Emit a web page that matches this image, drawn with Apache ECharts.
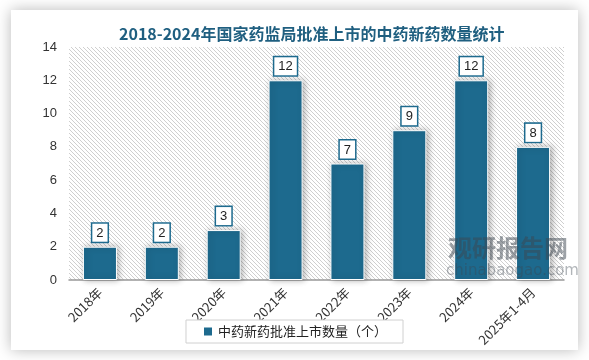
<!DOCTYPE html>
<html><head><meta charset="utf-8">
<script src="https://cdn.jsdelivr.net/npm/echarts@6/dist/echarts.min.js"></script>
<style>html,body{margin:0;padding:0;background:#fff;}#c{width:589px;height:360px;}</style>
</head><body><div id="c"></div>
<script>
var categories = ['2018年','2019年','2020年','2021年','2022年','2023年','2024年','2025年1-4月'];
var values = [2,2,3,12,7,9,12,8];
var seriesName = '中药新药批准上市数量（个）';
var titleText = '2018-2024年国家药监局批准上市的中药新药数量统计';

var pc = document.createElement('canvas');
pc.width = 4; pc.height = 4;
var g = pc.getContext('2d');
g.fillStyle = '#ffffff'; g.fillRect(0,0,4,4);
g.strokeStyle = '#cfcfcf'; g.lineWidth = 1;
g.beginPath();
g.moveTo(-1,-1); g.lineTo(5,5);
g.moveTo(-1,3); g.lineTo(1,5);
g.moveTo(3,-1); g.lineTo(5,1);
g.stroke();

var barColor = '#1d6a8e';
var chart = echarts.init(document.getElementById('c'), null, {renderer:'canvas'});
chart.setOption({
  animation:false,
  graphic:[
    {type:'rect', z:-10, shape:{x:11,y:10,width:567,height:340}, style:{fill:'#fff', shadowBlur:14, shadowColor:'rgba(0,0,0,0.28)'}},
    {type:'text', z:100, left:448, top:236, style:{text:'观研报告网', fill:'rgba(60,70,80,0.5)', font:'bold 24px "Noto Sans CJK SC"'}},
    {type:'text', z:100, left:446, top:264, style:{text:'chinabaogao.com', fill:'rgba(60,70,80,0.4)', font:'15px "DejaVu Sans"'}}
  ],
  title:{text:titleText, left:114, top:21, textStyle:{color:'#1f5f80', fontSize:16, fontWeight:'bold', fontFamily:'"Noto Sans CJK SC"'}},
  grid:{left:69, right:25, top:47, bottom:80, show:true, borderWidth:0, backgroundColor:{image:pc, repeat:'repeat'}},
  legend:{bottom:17, left:'center', data:[seriesName], itemWidth:10, itemHeight:10, icon:'rect',
    borderColor:'#d0d0d0', borderWidth:1, padding:[5,16,5,16], backgroundColor:'#fff',
    textStyle:{fontSize:13, color:'#222', fontFamily:'"Noto Sans CJK SC"'}},
  xAxis:{type:'category', data:categories, axisLine:{lineStyle:{color:'#999', width:1.5}}, axisTick:{show:false},
    axisLabel:{rotate:45, color:'#333', fontSize:13, interval:0, margin:10, fontFamily:'"Noto Sans CJK SC"'}},
  yAxis:{type:'value', min:0, max:14, interval:2, splitLine:{show:false}, axisLine:{show:false}, axisTick:{show:false},
    axisLabel:{color:'#333', fontSize:13, margin:12}},
  series:[{type:'bar', name:seriesName, data:values, barWidth:'55%',
    itemStyle:{color:barColor, borderColor:'#fff', borderWidth:1, shadowBlur:6, shadowColor:'rgba(0,0,0,0.3)', shadowOffsetX:2, shadowOffsetY:0},
    label:{show:true, position:'top', distance:5, color:'#222', fontSize:13, backgroundColor:'#fff', borderColor:barColor, borderWidth:1.5, padding:[3,4,2,4]}
  }]
});
</script></body></html>
